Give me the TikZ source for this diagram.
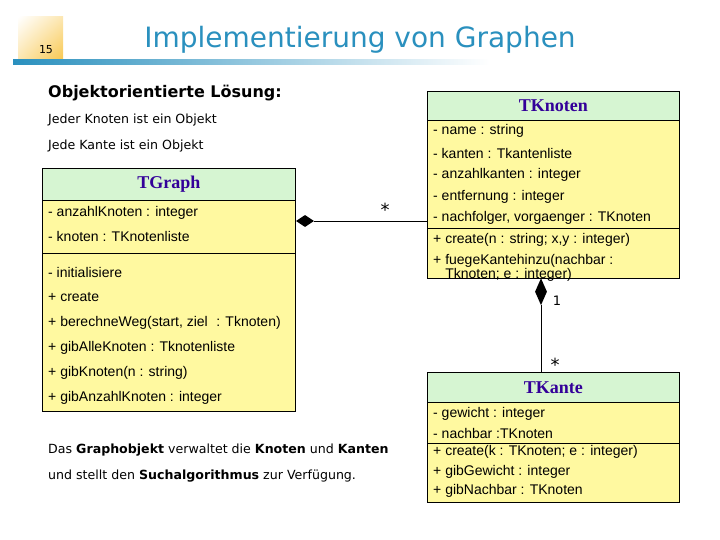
\documentclass[tikz,border=0pt]{standalone}
\usepackage{fontspec}
\setmainfont{DejaVu Sans}
\newfontfamily\umlfont{Liberation Sans}
\newfontfamily\clsfont{Liberation Serif}
\usetikzlibrary{shapes.geometric,shadings}
\definecolor{hdr}{HTML}{D6F5D2}
\definecolor{bdy}{HTML}{FFF9A0}
\definecolor{clsname}{HTML}{330099}
\definecolor{ttl}{HTML}{2A90BE}
\definecolor{orangey}{HTML}{F8C850}
\tikzset{
  hbox/.style={draw=black, line width=0.8pt, fill=hdr, anchor=north west, inner sep=0pt},
  bbox/.style={draw=black, line width=0.8pt, fill=bdy, anchor=north west, inner sep=0pt},
  cname/.style={font=\clsfont\bfseries\fontsize{18}{20}\selectfont, text=clsname},
  mem/.style={anchor=west, inner sep=0pt, font=\umlfont\fontsize{14}{14}\selectfont},
  memb/.style={anchor=north west, inner sep=0pt, align=left, font=\umlfont\fontsize{14}{12}\selectfont},
  txt/.style={anchor=west, inner sep=0pt, font=\fontsize{12.6}{14}\selectfont},
  dia/.style={diamond, fill=black, inner sep=0pt},
  mult/.style={inner sep=0pt, font=\fontsize{18}{18}\selectfont}
}
\begin{document}
\begin{tikzpicture}[x=1pt,y=-1pt]
\useasboundingbox (0,0) rectangle (720,540);
% header
\shade[lower right=orangey, upper left=white, lower left=orangey!45, upper right=orangey!45] (18,17) rectangle (63,60);
\node[inner sep=0pt, font=\fontsize{11}{12}\selectfont] (pg) at (46,50) {15};
\shade[left color=ttl, right color=white] (13,60) rectangle (490,65);
\node[inner sep=0pt, font=\fontsize{28}{30}\selectfont, text=ttl] (title) at (360,40) {Implementierung von Graphen};
% intro
\node[txt, font=\bfseries\fontsize{16}{17}\selectfont] (h1) at (48,93) {Objektorientierte Lösung:};
\node[txt] (t1) at (48,120) {Jeder Knoten ist ein Objekt};
\node[txt] (t2) at (48,146) {Jede Kante ist ein Objekt};
% TGraph
\node[hbox, minimum width=253pt, minimum height=32pt] (gh) at (42,168) {};
\node[cname] (ghn) at (gh.center) {TGraph};
\node[bbox, minimum width=253pt, minimum height=53pt] (ga) at (42,200) {};
\node[bbox, minimum width=253pt, minimum height=158pt] (gm) at (42,253) {};
\node[mem] (ga1) at (48,213) {- anzahlKnoten : integer};
\node[mem] (ga2) at (48,236) {- knoten : TKnotenliste};
\node[mem] (gm1) at (48,272) {- initialisiere};
\node[mem] (gm2) at (48,297) {+ create};
\node[mem] (gm3) at (48,323) {+ berechneWeg(start, ziel\,\, : Tknoten)};
\node[mem] (gm4) at (48,348) {+ gibAlleKnoten : Tknotenliste};
\node[mem] (gm5) at (48,373) {+ gibKnoten(n : string)};
\node[mem] (gm6) at (48,398) {+ gibAnzahlKnoten : integer};
% TKnoten
\node[hbox, minimum width=252pt, minimum height=29pt] (kh) at (427,91) {};
\node[cname] (khn) at (kh.center) {TKnoten};
\node[bbox, minimum width=252pt, minimum height=108pt] (ka) at (427,120) {};
\node[bbox, minimum width=252pt, minimum height=50pt] (km) at (427,228) {};
\node[mem] (ka1) at (433,131) {- name : string};
\node[mem] (ka2) at (433,153) {- kanten : Tkantenliste};
\node[mem] (ka3) at (433,175) {- anzahlkanten : integer};
\node[mem] (ka4) at (433,197) {- entfernung : integer};
\node[mem] (ka5) at (433,218) {- nachfolger, vorgaenger : TKnoten};
\node[mem] (km1) at (433,240) {+ create(n : string; x,y : integer)};
\node[memb] (km2) at (433,254) {+ fuegeKantehinzu(nachbar :\\\hphantom{+ }Tknoten; e : integer)};
% TKante
\node[hbox, minimum width=252pt, minimum height=30pt] (eh) at (427,372) {};
\node[cname] (ehn) at (eh.center) {TKante};
\node[bbox, minimum width=252pt, minimum height=41pt] (ea) at (427,402) {};
\node[bbox, minimum width=252pt, minimum height=59pt] (em) at (427,443) {};
\node[mem] (ea1) at (433,414) {- gewicht : integer};
\node[mem] (ea2) at (433,433) {- nachbar :TKnoten};
\node[mem] (em1) at (433,452) {+ create(k : TKnoten; e : integer)};
\node[mem] (em2) at (433,472) {+ gibGewicht : integer};
\node[mem] (em3) at (433,491) {+ gibNachbar : TKnoten};
% connectors
\node[dia, minimum width=18pt, minimum height=12pt, anchor=west] (d1) at (ga.east |- 0,221) {};
\draw[line width=0.8pt] (d1.east) -- (d1.east -| ka.west);
\node[mult] (m1) at (385,210) {*};
\node[dia, minimum width=12pt, minimum height=27pt, anchor=north] (d2) at (541,278) {};
\draw[line width=0.8pt] (d2.south) -- (d2.south |- eh.north);
\node[mult, font=\fontsize{13}{14}\selectfont] (m2) at (557,301) {1};
\node[mult] (m3) at (555,365) {*};
% bottom text
\node[txt] (b1) at (48,450) {Das \textbf{Graphobjekt} verwaltet die \textbf{Knoten} und \textbf{Kanten}};
\node[txt] (b2) at (48,476) {und stellt den \textbf{Suchalgorithmus} zur Verfügung.};
\end{tikzpicture}
\end{document}
